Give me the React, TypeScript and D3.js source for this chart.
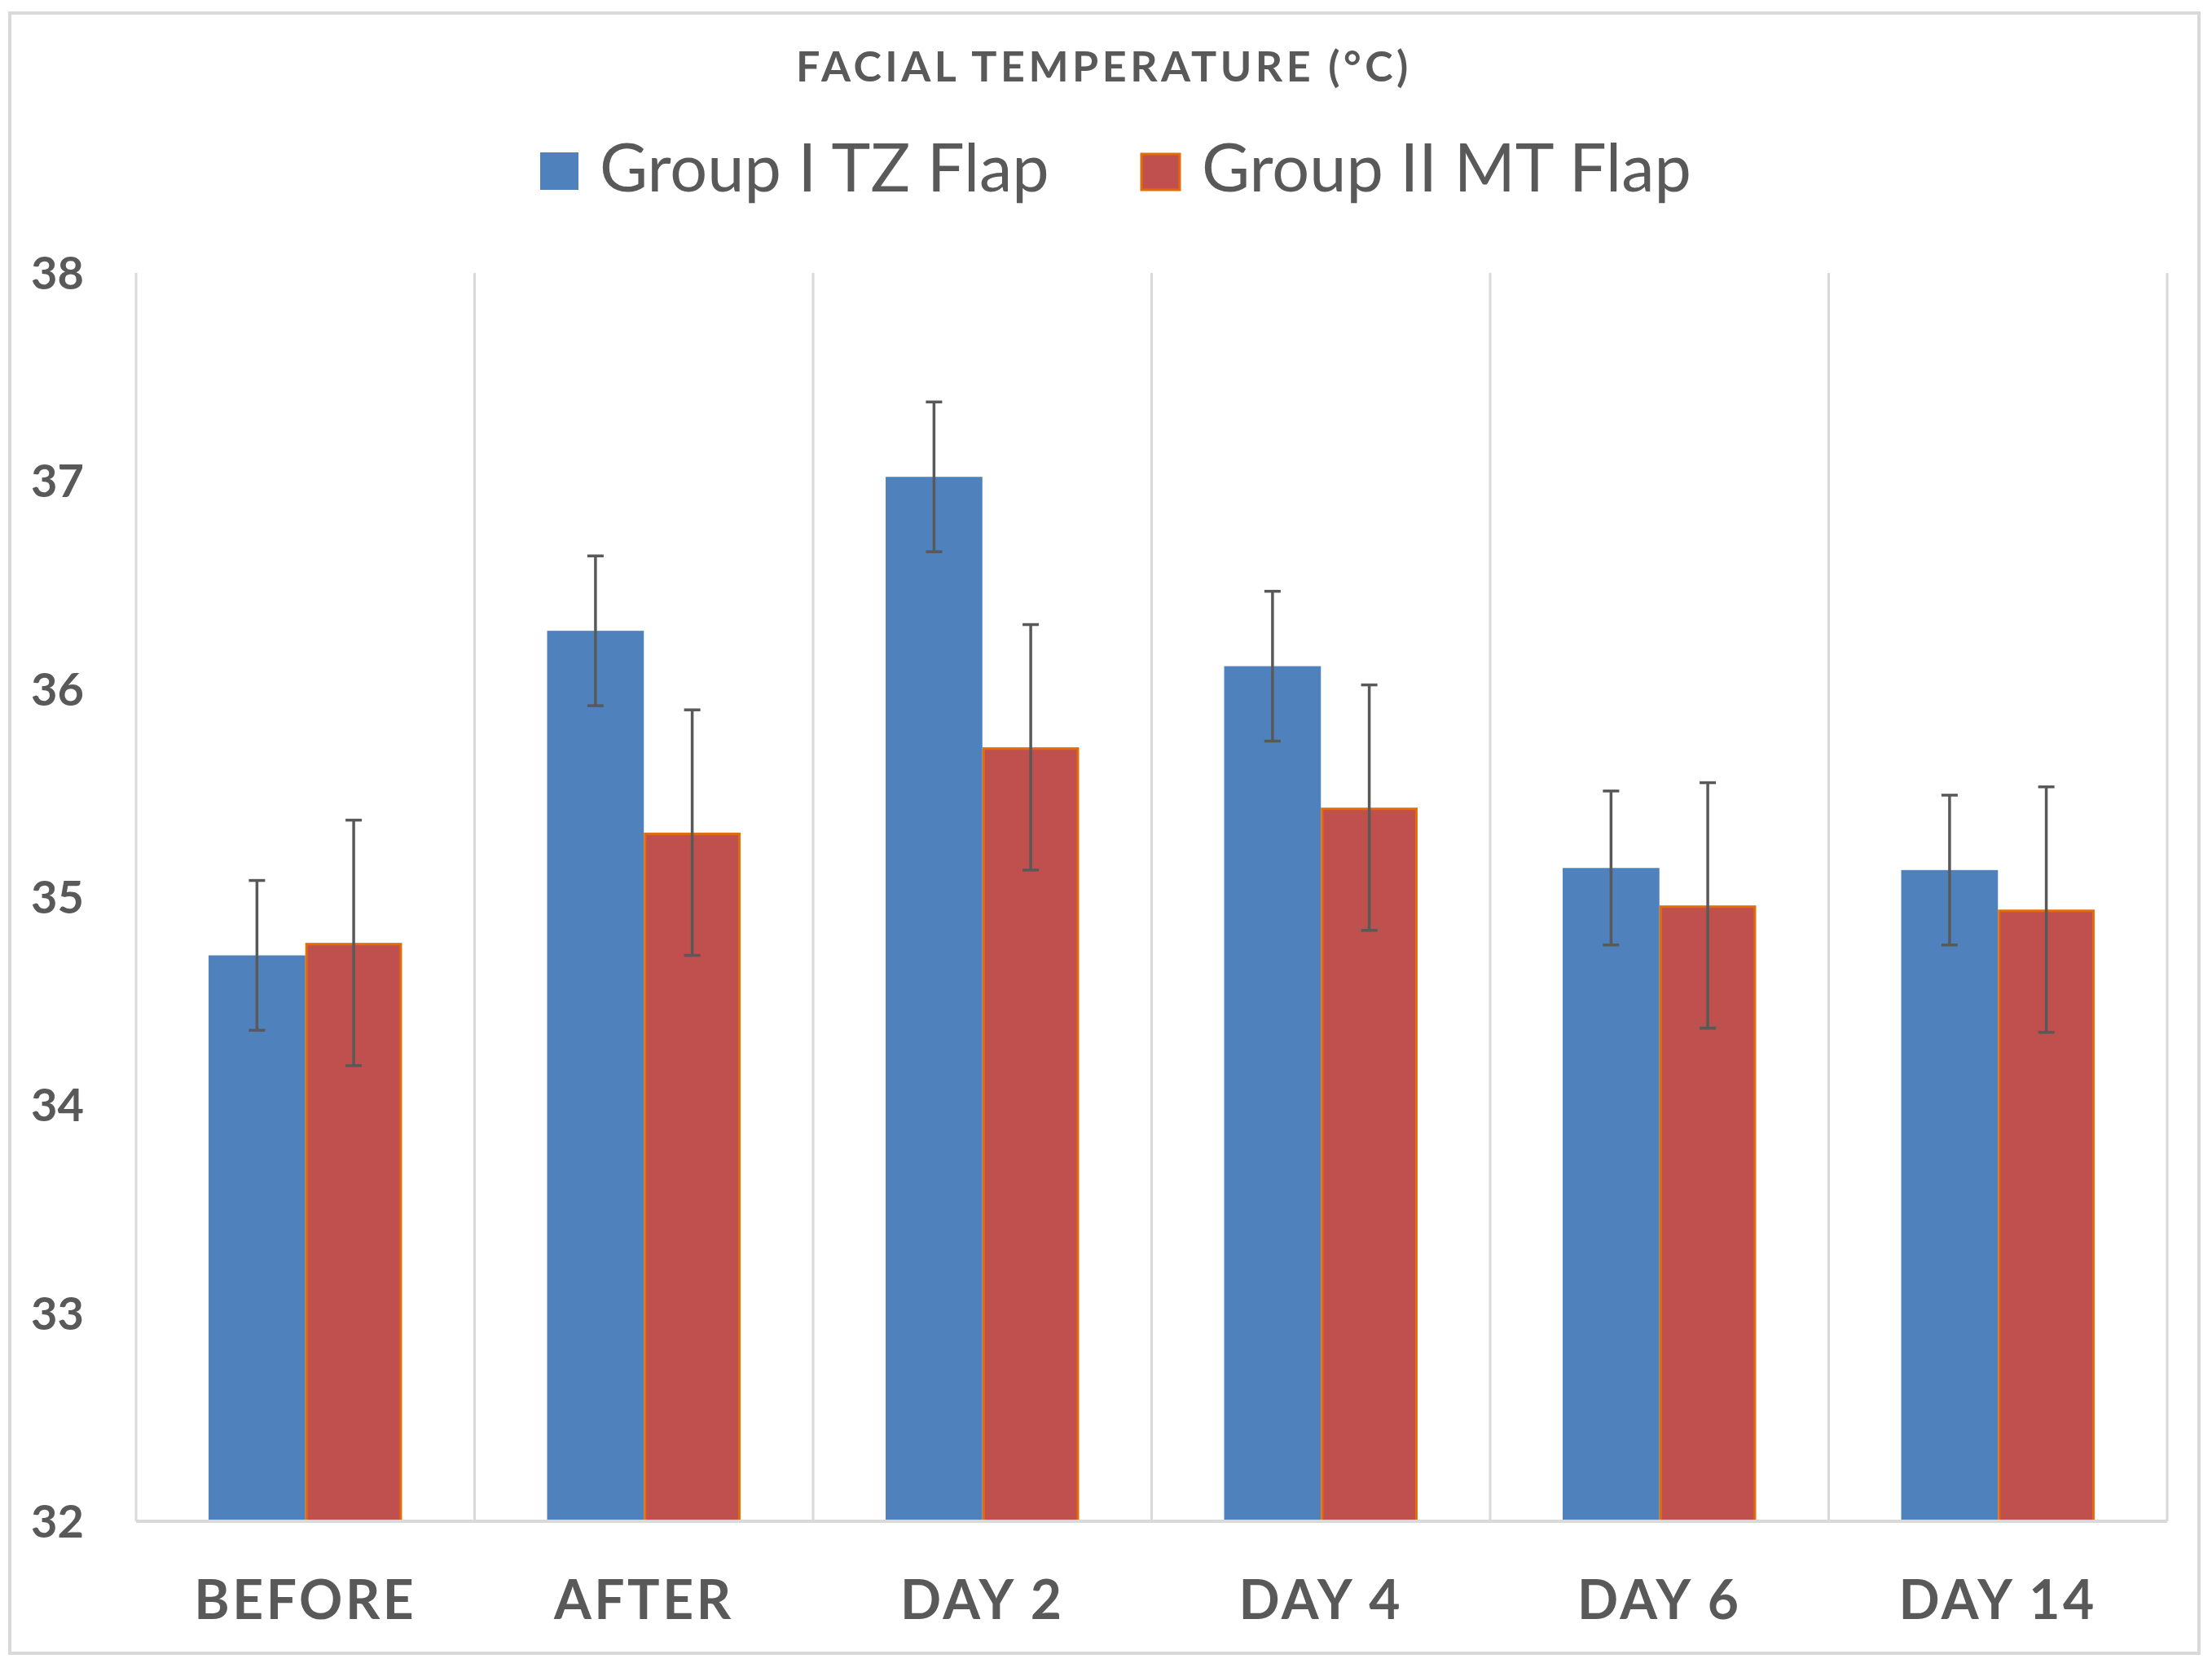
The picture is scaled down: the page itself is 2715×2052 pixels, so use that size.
import * as d3 from "d3"

const categories = ["BEFORE", "AFTER", "DAY 2", "DAY 4", "DAY 6", "DAY 14"]
const seriesNames = ["Group I TZ Flap", "Group II MT Flap"]
const groupOne = [34.72, 36.28, 37.02, 36.11, 35.14, 35.13]
const groupOneErr = [0.36, 0.36, 0.36, 0.36, 0.37, 0.36]
const groupTwo = [34.78, 35.31, 35.72, 35.43, 34.96, 34.94]
const groupTwoErr = [0.59, 0.59, 0.59, 0.59, 0.59, 0.59]
const yTicks = [32, 33, 34, 35, 36, 37, 38]

const W = 2715
const H = 2052
const plot = { left: 167, right: 2660, top: 335, bottom: 1867 }
const textColor = "#595959"
const gridColor = "#D9D9D9"
const fills = ["#4F81BD", "#C0504D"]
const font = "Lato, 'Open Sans', sans-serif"

export default function App() {
  const x0 = d3.scaleBand<string>().domain(categories).range([plot.left, plot.right]).padding(0)
  const step = x0.bandwidth()
  // Excel gap width 75% -> each bar = step / 3.5
  const barW = step / 3.5
  const x1 = d3
    .scaleBand<string>()
    .domain(seriesNames)
    .range([barW * 0.75, step - barW * 0.75])
  const y = d3.scaleLinear().domain([32, 38]).range([plot.bottom, plot.top])

  const series = [
    { name: seriesNames[0], values: groupOne, err: groupOneErr },
    { name: seriesNames[1], values: groupTwo, err: groupTwoErr },
  ]

  const bounds = [...categories.map((c) => x0(c) as number), plot.right]

  return (
    <svg width={W} height={H} style={{ position: "absolute", left: 0, top: 0, background: "#fff" }}>
      <rect x={12} y={16} width={2687} height={2013} fill="#fff" stroke={gridColor} strokeWidth={4} />

      <text
        x={1355}
        y={100}
        textAnchor="middle"
        fontFamily={font}
        fontWeight="bold"
        fontSize={52}
        letterSpacing={4.5}
        fill={textColor}
      >
        FACIAL TEMPERATURE (°C)
      </text>

      {/* legend */}
      <g fontFamily={font} fontSize={81} fill={textColor}>
        <rect x={663} y={187} width={47} height={46} fill={fills[0]} />
        <text x={736} y={235}>{seriesNames[0]}</text>
        <rect x={1401} y={189} width={47} height={44} fill={fills[1]} stroke="#E36C09" strokeWidth={3} />
        <text x={1475} y={235}>{seriesNames[1]}</text>
      </g>

      {/* vertical gridlines */}
      {bounds.map((bx, i) => (
        <line key={i} x1={bx} x2={bx} y1={plot.top} y2={plot.bottom} stroke={gridColor} strokeWidth={3} />
      ))}

      {/* bars */}
      {series.map((s, si) => (
        <g key={s.name}>
          {categories.map((c, ci) => {
            const bx = (x0(c) as number) + (x1(s.name) as number)
            const by = y(s.values[ci])
            return (
              <rect
                key={c}
                x={si === 1 ? bx + 1.5 : bx}
                y={si === 1 ? by + 1.5 : by}
                width={si === 1 ? x1.bandwidth() - 3 : x1.bandwidth()}
                height={plot.bottom - by - (si === 1 ? 1.5 : 0)}
                fill={fills[si]}
                stroke={si === 1 ? "#E36C09" : "none"}
                strokeWidth={3}
              />
            )
          })}
        </g>
      ))}

      {/* axis line */}
      <line x1={plot.left} x2={plot.right} y1={plot.bottom} y2={plot.bottom} stroke={gridColor} strokeWidth={4} />

      {/* error bars */}
      {series.map((s) => (
        <g key={s.name + "-err"} stroke={textColor} strokeWidth={3.5}>
          {categories.map((c, ci) => {
            const cx = (x0(c) as number) + (x1(s.name) as number) + x1.bandwidth() / 2
            const hi = y(s.values[ci] + s.err[ci])
            const lo = y(s.values[ci] - s.err[ci])
            return (
              <g key={c}>
                <line x1={cx} x2={cx} y1={hi} y2={lo} />
                <line x1={cx - 10} x2={cx + 10} y1={hi} y2={hi} />
                <line x1={cx - 10} x2={cx + 10} y1={lo} y2={lo} />
              </g>
            )
          })}
        </g>
      ))}

      {/* y tick labels */}
      {yTicks.map((t) => (
        <text
          key={t}
          x={103}
          y={y(t)}
          dy="0.36em"
          textAnchor="end"
          fontFamily={font}
          fontWeight="bold"
          fontSize={56}
          fill={textColor}
        >
          {t}
        </text>
      ))}

      {/* category labels */}
      {categories.map((c) => (
        <text
          key={c}
          x={(x0(c) as number) + step / 2}
          y={1987}
          textAnchor="middle"
          fontFamily={font}
          fontWeight="bold"
          fontSize={66}
          letterSpacing={3.5}
          fill={textColor}
        >
          {c}
        </text>
      ))}
    </svg>
  )
}
